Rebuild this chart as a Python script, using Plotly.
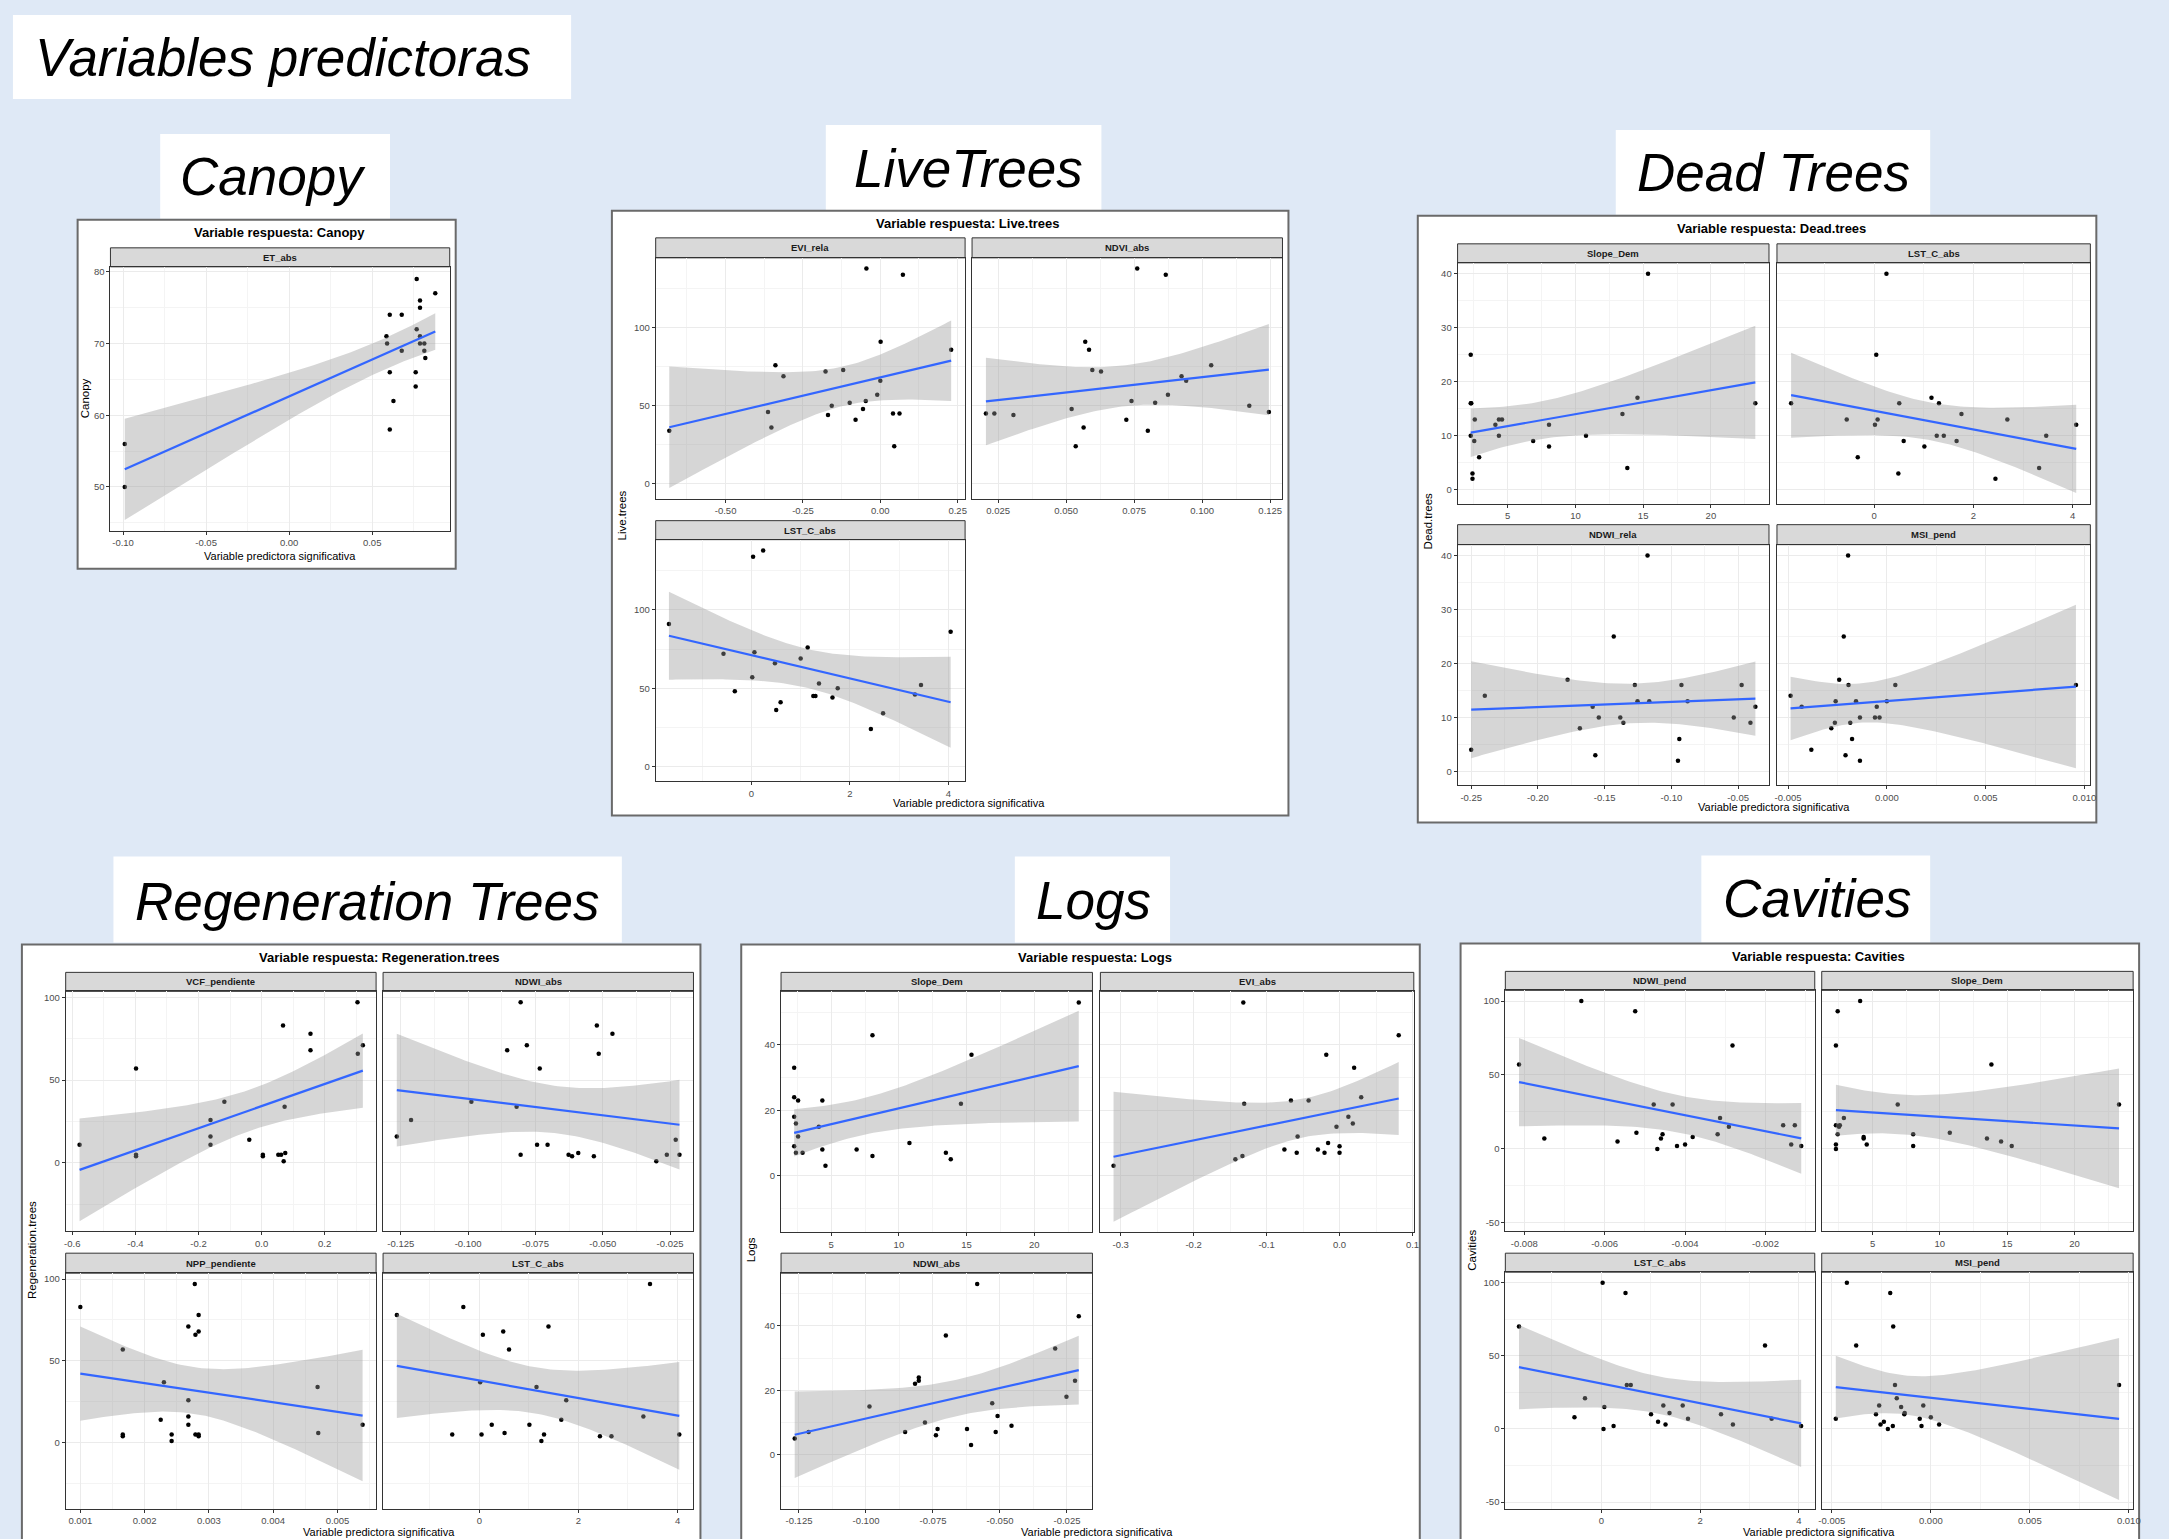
import numpy as np
import plotly.graph_objects as go

W, H = 2169, 1539

# ======================= DATA =======================
# Canopy ~ ET_abs
canopy_et_abs_x = [-0.099, -0.099, 0.0586, 0.059, 0.0606, 0.0678, 0.0606, 0.0678, 0.0628, 0.0606, 0.0768,
                   0.0788, 0.0788, 0.088, 0.0768, 0.0788, 0.0788, 0.0814, 0.0814, 0.082, 0.0762, 0.0762]
canopy_et_abs_y = [56, 50, 71, 70, 74, 74, 66, 69, 62, 58, 79, 76, 75, 77, 72, 71, 70, 70, 69, 68, 66, 64]

# Live.trees
live_evi_rela_x = [-0.682, -0.363, -0.352, -0.339, -0.313, -0.177, -0.169, -0.157, -0.120, -0.099, -0.080,
                   -0.056, -0.047, -0.045, -0.010, 0.001, 0.0, 0.041, 0.062, 0.045, 0.073, 0.229]
live_evi_rela_y = [34, 46, 36, 76, 69, 72, 44, 50, 73, 52, 41, 48, 53, 138, 57, 91, 66, 45, 45, 24, 134, 86]
live_ndvi_abs_x = [0.0205, 0.0236, 0.0306, 0.052, 0.0564, 0.0535, 0.057, 0.0584, 0.0596, 0.0628, 0.0721,
                   0.0740, 0.0761, 0.080, 0.0827, 0.0866, 0.0874, 0.0924, 0.0941, 0.1033, 0.1173, 0.1245]
live_ndvi_abs_y = [45, 45, 44, 48, 36, 24, 91, 86, 73, 72, 41, 53, 138, 34, 52, 134, 57, 69, 66, 76, 50, 46]
live_lst_c_abs_x = [-1.673, -0.566, -0.336, 0.018, 0.035, 0.062, 0.239, 0.478, 0.504, 0.593, 1.0,
                    1.142, 1.257, 1.30, 1.372, 1.646, 1.752, 2.425, 2.673, 3.319, 3.442, 4.044]
live_lst_c_abs_y = [91, 72, 48, 57, 134, 73, 138, 66, 36, 41, 69, 76, 45, 45, 53, 44, 50, 24, 34, 46, 52, 86]

# Dead.trees
dead_slope_dem_x = [2.27, 2.27, 2.31, 2.27, 2.40, 2.40, 2.57, 2.53, 2.89, 4.09, 4.35, 4.35, 4.58, 6.88,
                    8.05, 8.05, 10.78, 13.47, 13.83, 14.58, 15.36, 23.28]
dead_slope_dem_y = [25, 16, 16, 10, 3, 2, 13, 9, 6, 12, 10, 13, 13, 9, 12, 8, 10, 14, 4, 17, 40, 16]
dead_lst_c_abs_x = [-1.671, -0.551, -0.329, 0.018, 0.071, 0.044, 0.249, 0.507, 0.489, 0.596, 1.013,
                    1.156, 1.262, 1.307, 1.404, 1.662, 1.76, 2.444, 2.684, 3.324, 3.467, 4.071]
dead_lst_c_abs_y = [16, 13, 6, 12, 13, 25, 40, 16, 3, 9, 8, 17, 10, 16, 10, 9, 14, 2, 13, 4, 10, 12]
dead_ndwi_rela_x = [-0.25, -0.2398, -0.1778, -0.1686, -0.159, -0.157, -0.1544, -0.1432, -0.1383, -0.136,
                    -0.1274, -0.1254, -0.1179, -0.1166, -0.0941, -0.0925, -0.0951, -0.0879, -0.0533,
                    -0.0474, -0.0408, -0.0371]
dead_ndwi_rela_y = [4, 14, 17, 8, 12, 3, 10, 25, 10, 9, 16, 13, 40, 13, 6, 16, 2, 13, 10, 16, 9, 12]
dead_msi_pend_x = [-0.00487, -0.00431, -0.00382, -0.00281, -0.00263, -0.00259, -0.00241, -0.00218,
                   -0.00209, -0.00196, -0.00194, -0.00185, -0.00176, -0.00156, -0.00136, -0.00136,
                   -0.0006, -0.00051, -0.00037, 0.0, 0.00043, 0.00957]
dead_msi_pend_y = [14, 12, 4, 8, 9, 13, 17, 25, 3, 40, 16, 9, 6, 13, 10, 2, 10, 12, 10, 13, 16, 16]

# Regeneration.trees
regen_vcf_pend_x = [-0.577, -0.398, -0.398, -0.398, -0.162, -0.162, -0.162, -0.118, -0.039, 0.004, 0.004,
                    0.053, 0.062, 0.068, 0.073, 0.075, 0.070, 0.155, 0.155, 0.304, 0.305, 0.321]
regen_vcf_pend_y = [11, 57, 5, 4, 26, 16, 11, 37, 14, 5, 4, 5, 5, 83, 34, 6, 1, 78, 68, 97, 66, 71]
regen_ndwi_abs_x = [-0.1265, -0.1212, -0.0988, -0.0855, -0.082, -0.0805, -0.0805, -0.0782, -0.0734,
                    -0.0744, -0.0705, -0.0627, -0.0614, -0.0591, -0.0533, -0.0522, -0.0515, -0.0464,
                    -0.0301, -0.0262, -0.0229, -0.0215]
regen_ndwi_abs_y = [16, 26, 37, 68, 34, 97, 5, 71, 57, 11, 11, 5, 4, 6, 4, 83, 66, 78, 1, 5, 14, 5]
regen_npp_pend_x = [0.001, 0.00166, 0.00166, 0.00166, 0.00225, 0.0023, 0.00242, 0.00242, 0.00268, 0.00268,
                    0.00268, 0.00268, 0.00278, 0.00279, 0.00284, 0.00284, 0.00279, 0.00284, 0.00284,
                    0.00469, 0.0047, 0.00539]
regen_npp_pend_y = [83, 57, 5, 4, 14, 37, 5, 1, 71, 26, 16, 11, 97, 66, 78, 68, 5, 5, 4, 34, 6, 11]
regen_lst_c_abs_x = [-1.664, -0.546, -0.322, 0.018, 0.045, 0.072, 0.251, 0.483, 0.51, 0.6, 1.011,
                     1.154, 1.253, 1.306, 1.396, 1.655, 1.754, 2.434, 2.667, 3.311, 3.445, 4.036]
regen_lst_c_abs_y = [78, 5, 83, 37, 5, 66, 11, 68, 6, 57, 11, 34, 1, 5, 71, 14, 26, 4, 4, 16, 97, 5]

# Logs
logs_slope_dem_x = [2.27, 2.27, 2.27, 2.27, 2.40, 2.40, 2.56, 2.56, 2.89, 4.09, 4.35, 4.35, 4.58, 6.88,
                    8.05, 8.05, 10.78, 13.47, 13.83, 14.58, 15.36, 23.28]
logs_slope_dem_y = [33, 24, 18, 9, 16, 7, 23, 12, 7, 15, 23, 8, 3, 8, 43, 6, 10, 7, 5, 22, 37, 53]
logs_evi_abs_x = [-0.3098, -0.1428, -0.1331, -0.1319, -0.1307, -0.0756, -0.0666, -0.0587, -0.0575,
                  -0.0424, -0.0297, -0.0206, -0.0182, -0.0157, -0.0042, 0.0, 0.0, 0.0121, 0.0182, 0.02,
                  0.0297, 0.0811]
logs_evi_abs_y = [3, 5, 6, 53, 22, 8, 23, 7, 12, 23, 8, 7, 37, 10, 15, 9, 7, 18, 16, 33, 24, 43]
logs_ndwi_abs_x = [-0.1266, -0.1214, -0.0987, -0.0854, -0.0817, -0.0803, -0.0803, -0.078, -0.0739,
                   -0.0733, -0.0702, -0.0623, -0.0608, -0.0585, -0.0529, -0.0516, -0.0509, -0.0457,
                   -0.0294, -0.0252, -0.022, -0.0206]
logs_ndwi_abs_y = [5, 7, 15, 7, 22, 23, 24, 10, 6, 8, 37, 8, 3, 53, 16, 7, 12, 9, 33, 18, 23, 43]

# Cavities
cav_ndwi_pend_x = [-0.00813, -0.0075, -0.00658, -0.00568, -0.00524, -0.00521, -0.00478, -0.00469,
                   -0.0046, -0.00456, -0.00431, -0.0042, -0.004, -0.00381, -0.00319, -0.00313,
                   -0.00291, -0.00282, -0.00156, -0.00136, -0.00127, -0.00111]
cav_ndwi_pend_y = [57, 7, 100, 5, 93, 11, 30, 0, 7, 10, 30, 2, 3, 8, 10, 21, 15, 70, 16, 3, 16, 2]
cav_slope_dem_x = [2.28, 2.41, 2.28, 2.51, 2.57, 2.41, 2.28, 2.28, 2.87, 4.08, 4.34, 4.34, 4.57, 6.87,
                   8.02, 8.02, 10.74, 13.5, 13.83, 14.55, 15.34, 23.31]
cav_slope_dem_y = [70, 93, 16, 15, 16, 10, 3, 0, 21, 100, 8, 7, 3, 30, 10, 2, 11, 7, 57, 5, 2, 30]
cav_lst_c_abs_x = [-1.666, -0.543, -0.33, 0.027, 0.045, 0.062, 0.249, 0.49, 0.517, 0.597, 1.007,
                   1.149, 1.256, 1.30, 1.381, 1.648, 1.755, 2.423, 2.664, 3.314, 3.448, 4.045]
cav_lst_c_abs_y = [70, 8, 21, 100, 0, 15, 2, 93, 30, 30, 10, 5, 16, 3, 11, 16, 7, 10, 3, 57, 7, 2]
cav_msi_pend_x = [-0.0048, -0.00424, -0.00377, -0.00277, -0.00261, -0.00254, -0.00237, -0.00217,
                  -0.00205, -0.00192, -0.0019, -0.00181, -0.00172, -0.0015, -0.00134, -0.00132,
                  -0.00056, -0.00047, -0.00038, 0.0, 0.00042, 0.00951]
cav_msi_pend_y = [7, 100, 57, 10, 16, 3, 5, 0, 93, 2, 70, 30, 21, 15, 10, 11, 7, 2, 16, 8, 3, 30]

# Tick values and labels
ticks_et_abs = [-0.10, -0.05, 0.00, 0.05]
labels_et_abs = ["-0.10", "-0.05", "0.00", "0.05"]
ticks_evi_rela = [-0.50, -0.25, 0.00, 0.25]
labels_evi_rela = ["-0.50", "-0.25", "0.00", "0.25"]
ticks_ndvi_abs = [0.025, 0.050, 0.075, 0.100, 0.125]
labels_ndvi_abs = ["0.025", "0.050", "0.075", "0.100", "0.125"]
ticks_lst = [0, 2, 4]
labels_lst = ["0", "2", "4"]
ticks_slope = [5, 10, 15, 20]
labels_slope = ["5", "10", "15", "20"]
ticks_ndwi_rela = [-0.25, -0.20, -0.15, -0.10, -0.05]
labels_ndwi_rela = ["-0.25", "-0.20", "-0.15", "-0.10", "-0.05"]
ticks_msi = [-0.005, 0.000, 0.005, 0.010]
labels_msi = ["-0.005", "0.000", "0.005", "0.010"]
ticks_vcf = [-0.6, -0.4, -0.2, 0.0, 0.2]
labels_vcf = ["-0.6", "-0.4", "-0.2", "0.0", "0.2"]
ticks_ndwi_abs = [-0.125, -0.100, -0.075, -0.050, -0.025]
labels_ndwi_abs = ["-0.125", "-0.100", "-0.075", "-0.050", "-0.025"]
ticks_npp = [0.001, 0.002, 0.003, 0.004, 0.005]
labels_npp = ["0.001", "0.002", "0.003", "0.004", "0.005"]
ticks_evi_abs = [-0.3, -0.2, -0.1, 0.0, 0.1]
labels_evi_abs = ["-0.3", "-0.2", "-0.1", "0.0", "0.1"]
ticks_ndwi_pend = [-0.008, -0.006, -0.004, -0.002]
labels_ndwi_pend = ["-0.008", "-0.006", "-0.004", "-0.002"]

yticks_canopy = [50, 60, 70, 80]
yticks_live = [0, 50, 100]
yticks_dead = [0, 10, 20, 30, 40]
yticks_regen = [0, 50, 100]
yticks_logs = [0, 20, 40]
yticks_cav = [-50, 0, 50, 100]

# ======================= STYLE =======================
SANS = "Liberation Sans, Arial, sans-serif"
BG = "#dfe9f6"
GRID = "#ebebeb"
MINOR = "#f4f4f4"
DARK = "#333333"
TICKC = "#4d4d4d"


def tq975(df):
    z = 1.959964
    return (z + (z**3 + z) / (4 * df) + (5 * z**5 + 16 * z**3 + 3 * z) / (96 * df**2)
            + (3 * z**7 + 19 * z**5 + 17 * z**3 - 15 * z) / (384 * df**3))


def lm_band(x, y, n=80):
    x = np.asarray(x, float)
    y = np.asarray(y, float)
    b1, b0 = np.polyfit(x, y, 1)
    xs = np.linspace(x.min(), x.max(), n)
    yhat = b0 + b1 * xs
    resid = y - (b0 + b1 * x)
    df = len(x) - 2
    s = np.sqrt((resid ** 2).sum() / df)
    sxx = ((x - x.mean()) ** 2).sum()
    se = s * np.sqrt(1.0 / len(x) + (xs - x.mean()) ** 2 / sxx)
    t = tq975(df)
    return xs, yhat, yhat - t * se, yhat + t * se


def minor_vals(ticks, rng):
    step = ticks[1] - ticks[0]
    cands = [ticks[0] - step / 2] + [t + step / 2 for t in ticks]
    return [c for c in cands if rng[0] <= c <= rng[1]]


BOT = 1509  # bottom edge of the lowest panel row (bottom charts)

# facets: (x, y, strip label, panel box px (x0,x1,y0,y1), strip top px, xrange, xticks, xlabels, yrange, yticks, show y labels)
facets = [
    # Canopy
    (canopy_et_abs_x, canopy_et_abs_y, "ET_abs", (108, 449, 266, 530), 247, [-0.1076, 0.0967],
     ticks_et_abs, labels_et_abs, [43.9, 80.7], yticks_canopy, True),
    # Live trees
    (live_evi_rela_x, live_evi_rela_y, "EVI_rela", (656, 967, 257, 498), 237, [-0.726, 0.274],
     ticks_evi_rela, labels_evi_rela, [-9.6, 144.9], yticks_live, True),
    (live_ndvi_abs_x, live_ndvi_abs_y, "NDVI_abs", (974, 1286, 257, 498), 237, [0.0154, 0.1295],
     ticks_ndvi_abs, labels_ndvi_abs, [-9.6, 144.9], yticks_live, False),
    (live_lst_c_abs_x, live_lst_c_abs_y, "LST_C_abs", (656, 967, 539, 781), 520, [-1.942, 4.337],
     ticks_lst, labels_lst, [-9.6, 144.9], yticks_live, True),
    # Dead trees
    (dead_slope_dem_x, dead_slope_dem_y, "Slope_Dem", (1462, 1775, 262, 503), 243, [1.30, 24.29],
     ticks_slope, labels_slope, [-2.6, 42.0], yticks_dead, True),
    (dead_lst_c_abs_x, dead_lst_c_abs_y, "LST_C_abs", (1783, 2098, 262, 503), 243, [-1.956, 4.356],
     ticks_lst, labels_lst, [-2.6, 42.0], yticks_dead, False),
    (dead_ndwi_rela_x, dead_ndwi_rela_y, "NDWI_rela", (1462, 1775, 544, 785), 524, [-0.2602, -0.0269],
     ticks_ndwi_rela, labels_ndwi_rela, [-2.6, 42.0], yticks_dead, True),
    (dead_msi_pend_x, dead_msi_pend_y, "MSI_pend", (1783, 2098, 544, 785), 524, [-0.00556, 0.0103],
     ticks_msi, labels_msi, [-2.6, 42.0], yticks_dead, False),
    # Regeneration trees
    (regen_vcf_pend_x, regen_vcf_pend_y, "VCF_pendiente", (63, 375, 991, 1231), 972, [-0.621, 0.363],
     ticks_vcf, labels_vcf, [-41.2, 103.6], yticks_regen, True),
    (regen_ndwi_abs_x, regen_ndwi_abs_y, "NDWI_abs", (382, 694, 991, 1231), 972, [-0.1316, -0.0163],
     ticks_ndwi_abs, labels_ndwi_abs, [-41.2, 103.6], yticks_regen, False),
    (regen_npp_pend_x, regen_npp_pend_y, "NPP_pendiente", (63, 375, 1273, BOT), 1253, [0.000772, 0.0056],
     ticks_npp, labels_npp, [-40.5, 103.6], yticks_regen, True),
    (regen_lst_c_abs_x, regen_lst_c_abs_y, "LST_C_abs", (382, 694, 1273, BOT), 1253, [-1.942, 4.322],
     ticks_lst, labels_lst, [-40.5, 103.6], yticks_regen, False),
    # Logs
    (logs_slope_dem_x, logs_slope_dem_y, "Slope_Dem", (782, 1095, 991, 1232), 972, [1.30, 24.29],
     ticks_slope, labels_slope, [-17.3, 56.4], yticks_logs, True),
    (logs_evi_abs_x, logs_evi_abs_y, "EVI_abs", (1103, 1418, 991, 1232), 972, [-0.3278, 0.1018],
     ticks_evi_abs, labels_evi_abs, [-17.3, 56.4], yticks_logs, False),
    (logs_ndwi_abs_x, logs_ndwi_abs_y, "NDWI_abs", (782, 1095, 1273, BOT), 1253, [-0.1317, -0.0155],
     ticks_ndwi_abs, labels_ndwi_abs, [-16.9, 56.4], yticks_logs, True),
    # Cavities
    (cav_ndwi_pend_x, cav_ndwi_pend_y, "NDWI_pend", (1510, 1821, 990, 1231), 971, [-0.00847, -0.000774],
     ticks_ndwi_pend, labels_ndwi_pend, [-55.6, 107.2], yticks_cav, True),
    (cav_slope_dem_x, cav_slope_dem_y, "Slope_Dem", (1828, 2141, 990, 1231), 971, [1.226, 24.36],
     ticks_slope, labels_slope, [-55.6, 107.2], yticks_cav, False),
    (cav_lst_c_abs_x, cav_lst_c_abs_y, "LST_C_abs", (1510, 1821, 1272, BOT), 1253, [-1.942, 4.321],
     ticks_lst, labels_lst, [-54.7, 107.2], yticks_cav, True),
    (cav_msi_pend_x, cav_msi_pend_y, "MSI_pend", (1828, 2141, 1272, BOT), 1253, [-0.00551, 0.01022],
     ticks_msi, labels_msi, [-54.7, 107.2], yticks_cav, False),
]

# panels: frame box, title, title pos, x-title pos (x, y, yanchor), y-title, y-title pos (x, y)
panels = [
    ((75, 219, 455, 568), "Variable respuesta: Canopy", (278, 232), (278, 555, "middle"), "Canopy", (82, 398)),
    ((612, 210, 1292, 815), "Variable respuesta: Live.trees", (970, 223), (971, 803, "middle"), "Live.trees", (622, 515)),
    ((1422, 215, 2104, 822), "Variable respuesta: Dead.trees", (1778, 228), (1780, 807, "middle"), "Dead.trees", (1432, 520)),
    ((19, 944, 701, 1580), "Variable respuesta: Regeneration.trees", (378, 957), (378, 1540, "bottom"), "Regeneration.trees", (29, 1250)),
    ((742, 944, 1424, 1580), "Variable respuesta: Logs", (1098, 957), (1100, 1540, "bottom"), "Logs", (752, 1250)),
    ((1465, 943, 2147, 1580), "Variable respuesta: Cavities", (1825, 956), (1825, 1540, "bottom"), "Cavities", (1477, 1250)),
]

# header boxes: box, text, text anchor point, x anchor
headers = [
    ((10, 14, 571, 98), "Variables predictoras", (30, 57), "left"),
    ((158, 133, 389, 218), "Canopy", (271, 176), "center"),
    ((827, 124, 1104, 210), "LiveTrees", (970, 168), "center"),
    ((1621, 129, 1937, 214), "Dead Trees", (1780, 172), "center"),
    ((111, 856, 622, 942), "Regeneration Trees", (366, 901), "center"),
    ((1017, 856, 1173, 942), "Logs", (1096, 900), "center"),
    ((1707, 855, 1937, 942), "Cavities", (1824, 898), "center"),
]


def px(x):
    return x / W


def py(y):
    return 1 - y / H


fig = go.Figure()
shapes = []
annotations = []

for (x0, y0, x1, y1), text, (tx, ty), anchor in headers:
    shapes.append(dict(type="rect", xref="paper", yref="paper", x0=px(x0), x1=px(x1), y0=py(y1), y1=py(y0),
                       fillcolor="white", line=dict(width=0), layer="below"))
    annotations.append(dict(xref="paper", yref="paper", x=px(tx), y=py(ty), xanchor=anchor, yanchor="middle",
                            text="<i>" + text + "</i>", showarrow=False,
                            font=dict(family=SANS, size=53, color="black")))

for (x0, y0, x1, y1), title, (tx, ty), (xtx, xty, xya), ytitle, (ytx, yty) in panels:
    shapes.append(dict(type="rect", xref="paper", yref="paper", x0=px(x0), x1=px(x1), y0=py(y1), y1=py(y0),
                       fillcolor="white", line=dict(width=2, color="#6a6a6a"), layer="below"))
    annotations.append(dict(xref="paper", yref="paper", x=px(tx), y=py(ty), xanchor="center", yanchor="middle",
                            text="<b>" + title + "</b>", showarrow=False,
                            font=dict(family=SANS, size=13, color="black")))
    annotations.append(dict(xref="paper", yref="paper", x=px(xtx), y=py(xty), xanchor="center", yanchor=xya,
                            text="Variable predictora significativa", showarrow=False,
                            font=dict(family=SANS, size=11, color="black")))
    annotations.append(dict(xref="paper", yref="paper", x=px(ytx), y=py(yty), xanchor="center", yanchor="middle",
                            text=ytitle, showarrow=False, textangle=-90,
                            font=dict(family=SANS, size=11.5, color="black")))

layout_axes = {}
for i, (xd, yd, lab, (x0, x1, y0, y1), sy, xr, xt, xtt, yr, yt, showy) in enumerate(facets, start=1):
    xa = "xaxis" if i == 1 else f"xaxis{i}"
    ya = "yaxis" if i == 1 else f"yaxis{i}"
    xref = "x" if i == 1 else f"x{i}"
    yref = "y" if i == 1 else f"y{i}"

    shapes.append(dict(type="rect", xref="paper", yref="paper", x0=px(x0), x1=px(x1), y0=py(y0), y1=py(sy),
                       fillcolor="#d9d9d9", line=dict(width=1, color=DARK), layer="below"))
    annotations.append(dict(xref="paper", yref="paper", x=px((x0 + x1) / 2), y=py((sy + y0) / 2),
                            xanchor="center", yanchor="middle", text="<b>" + lab + "</b>", showarrow=False,
                            font=dict(family=SANS, size=9.5, color="#1a1a1a")))

    common = dict(showgrid=True, gridcolor=GRID, gridwidth=1.2, zeroline=False,
                  showline=True, mirror=True, linecolor=DARK, linewidth=1,
                  ticklen=3, tickcolor=DARK, tickwidth=1,
                  tickfont=dict(family=SANS, size=9.5, color=TICKC), fixedrange=True)
    layout_axes[xa] = dict(domain=[px(x0), px(x1)], range=xr, anchor=yref, tickvals=xt, ticktext=xtt,
                           ticks="outside",
                           minor=dict(tickvals=minor_vals(xt, xr), showgrid=True, gridcolor=MINOR,
                                      gridwidth=0.7, ticks=""), **common)
    layout_axes[ya] = dict(domain=[py(y1), py(y0)], range=yr, anchor=xref, tickvals=yt,
                           ticktext=[str(v) for v in yt], showticklabels=showy,
                           ticks="outside" if showy else "",
                           minor=dict(tickvals=minor_vals(yt, yr), showgrid=True, gridcolor=MINOR,
                                      gridwidth=0.7, ticks=""), **common)

    xs, yhat, lo, hi = lm_band(xd, yd)
    fig.add_trace(go.Scatter(x=xd, y=yd, mode="markers", xaxis=xref, yaxis=yref,
                             marker=dict(size=4.5, color="black"), hoverinfo="skip", showlegend=False))
    fig.add_trace(go.Scatter(x=np.concatenate([xs, xs[::-1]]), y=np.concatenate([hi, lo[::-1]]),
                             mode="lines", fill="toself", fillcolor="rgba(153,153,153,0.4)",
                             line=dict(width=0), xaxis=xref, yaxis=yref, hoverinfo="skip", showlegend=False))
    fig.add_trace(go.Scatter(x=xs, y=yhat, mode="lines", xaxis=xref, yaxis=yref,
                             line=dict(color="#3366FF", width=2.2), hoverinfo="skip", showlegend=False))

fig.update_layout(width=W, height=H, margin=dict(l=0, r=0, t=0, b=0), paper_bgcolor=BG,
                  plot_bgcolor="white", showlegend=False, shapes=shapes, annotations=annotations,
                  hovermode=False, **layout_axes)

fig.write_html("out.html", config={"displayModeBar": False},
               post_script="document.body.style.margin='0';document.body.style.overflow='hidden';")
